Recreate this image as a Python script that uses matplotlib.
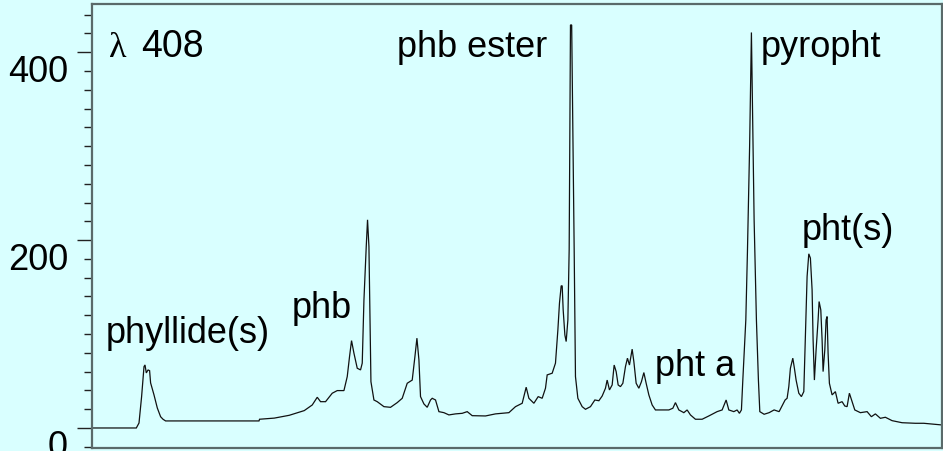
import matplotlib
matplotlib.use("Agg")
import matplotlib.pyplot as plt
import matplotlib.transforms as mtransforms
import numpy as np

# retention (arbitrary units, left spine = 0) and absorbance at 408 nm
time = [0, 44, 46.7, 49.3, 51.7, 52.7, 54, 55.7, 57.3, 58.3,
        61.7, 65, 68.3, 70.7, 73.3, 166.7, 167.3, 182, 197, 212,
        220, 225, 228.3, 233.3, 240, 245, 251.7, 255, 257.3, 259.3,
        261.7, 265, 268.3, 270, 271.7, 274, 275.3, 276.7, 277.7, 278.7,
        281.7, 285, 291.7, 298.3, 305, 310, 315, 320, 322.7, 324.7,
        326.7, 328.3, 331.7, 335, 338.3, 340, 343.3, 346.7, 351.7, 356.7,
        363.3, 370, 375, 380, 393.3, 403.3, 416.7, 423.3, 430, 434,
        436.7, 441.7, 446, 450, 453.3, 455, 460, 463.3, 465.7, 467.3,
        469, 470, 471, 472.7, 474, 475.7, 477, 478.3, 479.5, 482,
        483.3, 485.7, 490, 493.3, 498.3, 502.7, 506.7, 510, 513.3, 515,
        517.3, 520, 522, 524, 526, 528.3, 530.7, 533.3, 535.3, 537.3,
        540, 541.7, 544, 546.7, 549.3, 551.7, 554, 556.7, 560, 563.3,
        570, 576.7, 580.7, 583.3, 586.7, 591.7, 595, 598.3, 603.3, 610,
        616.7, 625, 630, 634, 636.7, 641.7, 645, 647.3, 649.3, 650.7,
        653.7, 655.3, 657.5, 659.3, 661, 662, 664.3, 666.3, 667.7, 672,
        677, 682, 687, 693, 695, 696.7, 698.3, 700.7, 702.3, 704,
        706.7, 709.3, 711.7, 713.3, 715, 716.7, 718.3, 720, 721, 722.3,
        724, 726, 727, 728.7, 730, 731, 732.7, 734, 735, 736,
        737.3, 740, 743.3, 746, 750, 752.7, 755, 757.3, 760, 762.7,
        768.3, 775, 779.3, 783.3, 788.3, 793.3, 800, 810, 823.3, 831.7,
        850]
signal = [0, 0, 5.3, 33.4, 65.3, 67.1, 58.6, 61.8, 61, 48,
          35.2, 21.3, 12, 9.3, 7.5, 7.5, 9.3, 10.5, 13.5, 18.5,
          24.5, 32.7, 28, 28, 37, 39.8, 39.8, 54.7, 76, 93,
          79.6, 63.6, 61.8, 69, 136, 193, 221.6, 193, 118.6, 49.3,
          29.8, 28, 22.7, 22, 27, 31.6, 47.6, 51, 76, 95.6,
          72.5, 33.4, 25.6, 22, 29.8, 31.6, 29.8, 17.4, 16.3, 13.9,
          15, 15.6, 17.4, 13.1, 12.8, 15, 16.3, 22.7, 26.3, 43.4,
          31.6, 26.3, 33.4, 31.6, 42.3, 56.5, 58.3, 69, 104.4, 132.9,
          151.3, 151.3, 125.7, 99, 92, 115, 190, 429, 429, 190,
          54.7, 31.6, 22.7, 19.9, 22.7, 29.8, 29, 34, 42.3, 51,
          40.5, 45.8, 67, 60, 45.8, 44, 47.6, 65.3, 74.3, 67,
          83.9, 70.7, 47.6, 42.3, 49.3, 59, 47.6, 35.2, 24.5, 19.2,
          19.2, 19.2, 21, 27, 19.2, 16.3, 19.2, 13.9, 9.3, 9.3,
          12.8, 17.4, 19.2, 29.8, 19.2, 17.4, 19.2, 15.6, 19.2, 51,
          115, 186.5, 300, 421, 300, 221.6, 115, 51, 17.4, 14.6,
          16.3, 19.2, 17.4, 29.8, 31.6, 44, 63.6, 74.3, 63.6, 51,
          37, 33.4, 38.7, 97.3, 161.2, 185.4, 180.8, 147, 93.8, 51,
          83, 115, 134.6, 125.7, 93.8, 60, 83, 115, 118.6, 79.6,
          47.6, 35.2, 38.7, 26.3, 28, 23.4, 22.7, 37, 28, 19.2,
          16.3, 17.4, 12, 15, 10.3, 11.4, 7.8, 5.6, 5, 5,
          3.2]

ytick_values = [0, 200, 400]
ytick_labels = ["0", "200", "400"]

peak_labels = ["phyllide(s)", "phb", "phb ester", "pht a", "pyropht", "pht(s)"]
label_time = [13, 199, 305, 563, 669, 710]
label_level = [90, 117, 395, 55, 395, 200]

BG = "#d9ffff"
plt.rcParams['font.family'] = ['Liberation Sans', 'DejaVu Sans']

fig = plt.figure(figsize=(9.43, 4.51), dpi=100, facecolor=BG)
ax = fig.add_axes([0.0979, 0.0073, 0.9011, 0.9832], facecolor=BG)

ax.plot(time, signal, color="#111111", lw=0.9, solid_joinstyle="miter")

ax.set_xlim(0, 850)
ax.set_ylim(-21, 451)
ax.set_xticks([])
ax.set_yticks(ytick_values)
ax.set_yticklabels(ytick_labels, fontsize=26)
ax.set_yticks(np.arange(-20, 451, 20), minor=True)
ax.tick_params(axis='y', which='major', length=10.5, width=1.0, color="#222222", pad=7)
ax.tick_params(axis='y', which='minor', length=5.5, width=1.0, color="#222222")

offset = mtransforms.ScaledTranslation(0, -0.16, fig.dpi_scale_trans)
for lab in ax.get_yticklabels():
    lab.set_transform(lab.get_transform() + offset)

for side in ["left", "top", "bottom", "right"]:
    ax.spines[side].set_color("#5a6a6a")
    ax.spines[side].set_linewidth(1.6)

for txt, t, lv in zip(peak_labels, label_time, label_level):
    ax.text(t, lv, txt, fontsize=26, ha="left", va="baseline", color="black")

ax.text(17, 395, "λ", fontsize=26, family=["Liberation Serif", "DejaVu Serif"],
        ha="left", va="baseline")
ax.text(49, 395, "408", fontsize=27, ha="left", va="baseline")

fig.savefig("out.png", dpi=100, facecolor=BG)
